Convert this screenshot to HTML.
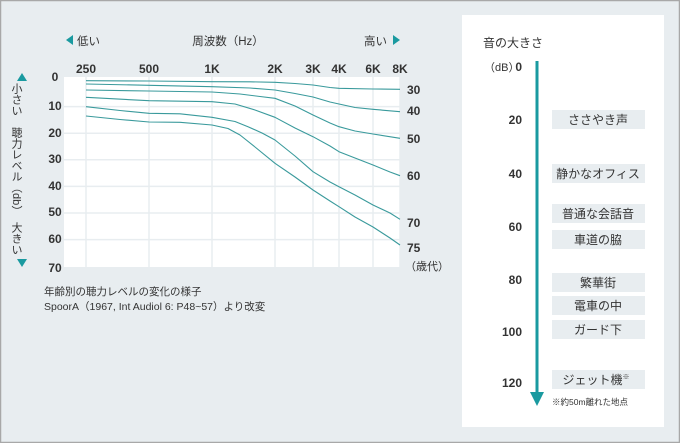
<!DOCTYPE html>
<html><head><meta charset="utf-8"><style>
body{margin:0;width:680px;height:443px;overflow:hidden;background:#fff}
svg{display:block;font-family:"Liberation Sans","Noto Sans CJK JP",sans-serif}
</style></head><body>
<svg width="680" height="443" viewBox="0 0 680 443">
<rect x="0.5" y="0.5" width="679" height="442" fill="#e8edf0" stroke="#a8a8a8" stroke-width="1.5"/>
<rect x="64" y="77" width="336" height="190" fill="#fff"/>
<g stroke="#e8edf0" stroke-width="1.5">
<line x1="64" y1="106.6" x2="400" y2="106.6"/><line x1="64" y1="133.2" x2="400" y2="133.2"/>
<line x1="64" y1="159.8" x2="400" y2="159.8"/><line x1="64" y1="186.4" x2="400" y2="186.4"/>
<line x1="64" y1="213" x2="400" y2="213"/><line x1="64" y1="239.6" x2="400" y2="239.6"/>
<line x1="86" y1="77" x2="86" y2="267"/><line x1="149" y1="77" x2="149" y2="267"/>
<line x1="212" y1="77" x2="212" y2="267"/><line x1="275" y1="77" x2="275" y2="267"/>
<line x1="313" y1="77" x2="313" y2="267"/><line x1="339" y1="77" x2="339" y2="267"/>
<line x1="373" y1="77" x2="373" y2="267"/><line x1="400" y1="77" x2="400" y2="267"/>
</g>
<g fill="none" stroke="#3a9a9c" stroke-width="1.1" stroke-linejoin="round">
<polyline points="86,80.7 149,81 212,81.7 250,81.8 275,82.3 295,83.5 313,85 330,87.5 339,88.3 373,89 400,89.3"/>
<polyline points="86,84 149,85.3 212,86.7 250,88 275,90 295,93.5 313,97 330,102 339,104 355,107.5 373,109.3 400,111.7"/>
<polyline points="86,90 149,91 212,92 240,94 260,96.5 275,98.3 295,106 313,115 330,123 339,126.7 355,131 373,134 400,138.3"/>
<polyline points="86,97.3 149,100.7 212,101.7 235,104 255,110 275,117.3 295,128 313,136.7 330,146 339,151.7 355,158 373,165 390,172 400,175.7"/>
<polyline points="86,106.7 120,110.5 149,113.3 180,113.8 212,117.3 235,121.5 248,126.7 262,133 275,140 295,156 313,171.7 330,182 339,186.7 355,195 373,205 390,213 400,219.3"/>
<polyline points="86,116 120,119.5 149,122 180,122.3 212,125 228,128.5 240,135 255,147 275,163.3 295,177 313,190 330,201 339,206.7 355,217 373,227 390,238 400,245"/>
</g>
<g font-size="12" font-weight="bold" fill="#333" text-anchor="middle">
<text x="86" y="73">250</text><text x="149" y="73">500</text><text x="212" y="73">1K</text>
<text x="275" y="73">2K</text><text x="313" y="73">3K</text><text x="339" y="73">4K</text>
<text x="373" y="73">6K</text><text x="400" y="73">8K</text>
</g>
<g font-size="12" font-weight="bold" fill="#333" text-anchor="middle">
<text x="55" y="81">0</text><text x="55" y="110">10</text><text x="55" y="137">20</text>
<text x="55" y="163">30</text><text x="55" y="190">40</text><text x="55" y="216">50</text>
<text x="55" y="243">60</text><text x="55" y="272">70</text>
</g>
<g font-size="12" font-weight="bold" fill="#333">
<text x="407" y="94">30</text><text x="407" y="115">40</text><text x="407" y="143">50</text>
<text x="407" y="180">60</text><text x="407" y="227">70</text><text x="407" y="252">75</text>
</g>
<text x="405" y="270" font-size="11" fill="#333">（歳代）</text>
<g font-size="11.5" fill="#333">
<polygon points="66,40 73,35 73,45" fill="#1a9aa0"/><text x="77" y="45">低い</text>
<text x="228" y="45" text-anchor="middle">周波数（Hz）</text>
<text x="364" y="45">高い</text><polygon points="400,40 393,35 393,45" fill="#1a9aa0"/>
</g>
<polygon points="22,73 17,81 27,81" fill="#1a9aa0"/>
<polygon points="22,267 17,259 27,259" fill="#1a9aa0"/>
<text x="16" y="83" font-size="11" fill="#333" style="writing-mode:vertical-rl">小さい　聴力レベル（db）　大きい</text>
<text x="44" y="295" font-size="10.5" fill="#333">年齢別の聴力レベルの変化の様子</text>
<text x="44" y="310" font-size="10.5" fill="#333">SpoorA（1967, Int Audiol 6: P48~57）より改変</text>
<rect x="462" y="15" width="202" height="412" fill="#fff"/>
<text x="483" y="47" font-size="12" fill="#333">音の大きさ</text>
<text x="484" y="71" font-size="11" fill="#333">（dB）</text>
<g font-size="12" font-weight="bold" fill="#333" text-anchor="end">
<text x="522" y="71">0</text><text x="522" y="124">20</text><text x="522" y="178">40</text>
<text x="522" y="231">60</text><text x="522" y="284">80</text><text x="522" y="336">100</text><text x="522" y="387">120</text>
</g>
<rect x="535.5" y="61" width="3" height="332" fill="#1a9aa0"/>
<polygon points="530,392 544,392 537,406" fill="#1a9aa0"/>
<g fill="#e8edf0">
<rect x="552" y="110" width="93" height="19"/><rect x="552" y="164" width="93" height="19"/>
<rect x="552" y="204" width="93" height="19"/><rect x="552" y="230" width="93" height="19"/>
<rect x="552" y="273" width="93" height="19"/><rect x="552" y="296" width="93" height="19"/>
<rect x="552" y="320" width="93" height="19"/><rect x="552" y="370" width="93" height="19"/>
</g>
<g font-size="12" fill="#333" text-anchor="middle">
<text x="598" y="124">ささやき声</text><text x="598" y="178">静かなオフィス</text>
<text x="598" y="218">普通な会話音</text><text x="598" y="244">車道の脇</text>
<text x="598" y="287">繁華街</text><text x="598" y="310">電車の中</text>
<text x="598" y="334">ガード下</text><text x="596" y="384">ジェット機<tspan font-size="7" dy="-5">※</tspan></text>
</g>
<text x="552" y="405" font-size="8.5" fill="#333">※約50m離れた地点</text>
</svg>
</body></html>
